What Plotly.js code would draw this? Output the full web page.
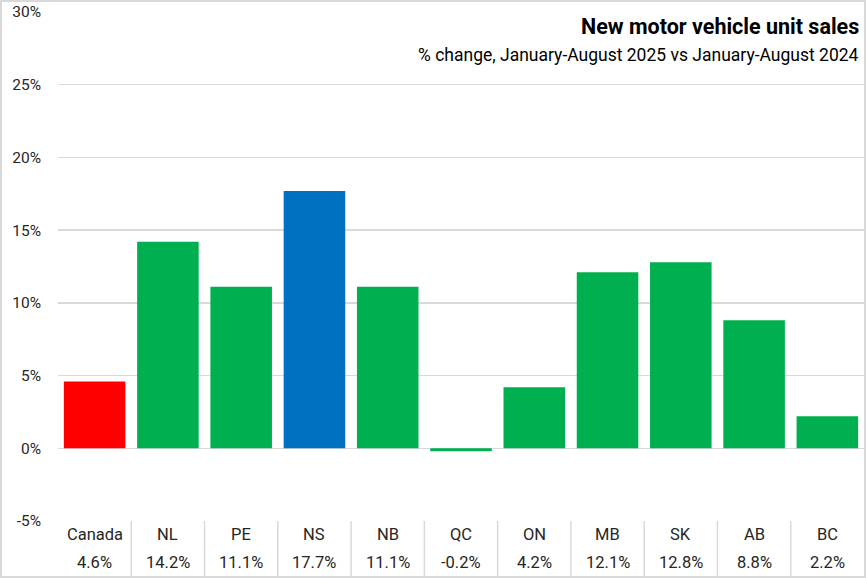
<!DOCTYPE html>
<html>
<head>
<meta charset="utf-8">
<script src="https://cdn.plot.ly/plotly-3.0.1.min.js"></script>
<style>
  html, body { margin: 0; padding: 0; background: #fff; }
  #wrap { width: 862px; height: 574px; border: 2px solid #d9d9d9; }
  #chart { width: 862px; height: 574px; }
</style>
</head>
<body>
<div id="wrap"><div id="chart"></div></div>
<script>
const categories = ["Canada", "NL", "PE", "NS", "NB", "QC", "ON", "MB", "SK", "AB", "BC"];
const values = [4.6, 14.2, 11.1, 17.7, 11.1, -0.2, 4.2, 12.1, 12.8, 8.8, 2.2];
const barColors = ["#FF0000", "#00B050", "#00B050", "#0070C0", "#00B050", "#00B050", "#00B050", "#00B050", "#00B050", "#00B050", "#00B050"];
const yTicks = [-5, 0, 5, 10, 15, 20, 25, 30];
const yTickLabels = ["-5%", "0%", "5%", "10%", "15%", "20%", "25%", "30%"];
const titleText = "New motor vehicle unit sales";
const subtitleText = "% change, January-August 2025 vs January-August 2024";

const FONT = "Roboto, 'Noto Sans', sans-serif";
const labelColor = "#262626";

const annotations = [];
categories.forEach((c, i) => {
  annotations.push({
    x: c, xref: "x", y: -0.0275, yref: "paper", yanchor: "middle", xanchor: "center",
    text: c, showarrow: false, font: { family: FONT, size: 16.5, color: labelColor }
  });
  annotations.push({
    x: c, xref: "x", y: -0.0825, yref: "paper", yanchor: "middle", xanchor: "center",
    text: values[i].toFixed(1) + "%", showarrow: false, font: { family: FONT, size: 16.5, color: labelColor }
  });
});
annotations.push({
  x: 1, xref: "paper", y: 0.972, yref: "paper", xanchor: "right", yanchor: "middle", xshift: -3,
  text: "<b>" + titleText + "</b>", showarrow: false, font: { family: FONT, size: 21.5, color: "#000" }
});
annotations.push({
  x: 1, xref: "paper", y: 0.9155, yref: "paper", xanchor: "right", yanchor: "middle", xshift: -3,
  text: subtitleText, showarrow: false, font: { family: FONT, size: 17.5, color: "#000" }
});

// separators between category cells in the label table
const shapes = categories.slice(0, -1).map((c, i) => ({
  type: "line", xref: "x", yref: "paper",
  x0: i + 0.5, x1: i + 0.5, y0: 0, y1: -0.12,
  line: { color: "#d9d9d9", width: 1.5 }
}));

const trace = {
  type: "bar",
  x: categories,
  y: values,
  marker: { color: barColors, line: { width: 0 } },
  hoverinfo: "none"
};

const layout = {
  width: 862, height: 574,
  margin: { l: 56, r: 0, t: 10, b: 55, pad: 0 },
  paper_bgcolor: "#fff", plot_bgcolor: "#fff",
  bargap: 0.16,
  showlegend: false,
  xaxis: {
    type: "category",
    showgrid: false, zeroline: false, showline: false,
    showticklabels: false, ticks: "",
    fixedrange: true
  },
  yaxis: {
    range: [-5, 30],
    tickvals: yTicks, ticktext: yTickLabels,
    showgrid: true, gridcolor: "#d9d9d9", gridwidth: 1.5,
    zeroline: true, zerolinecolor: "#d9d9d9", zerolinewidth: 1.5,
    showline: false, ticks: "",
    ticklabelstandoff: 16,
    tickfont: { family: FONT, size: 15.5, color: labelColor },
    fixedrange: true
  },
  shapes: shapes,
  annotations: annotations
};

Plotly.newPlot("chart", [trace], layout, { displayModeBar: false, staticPlot: true });
</script>
</body>
</html>
